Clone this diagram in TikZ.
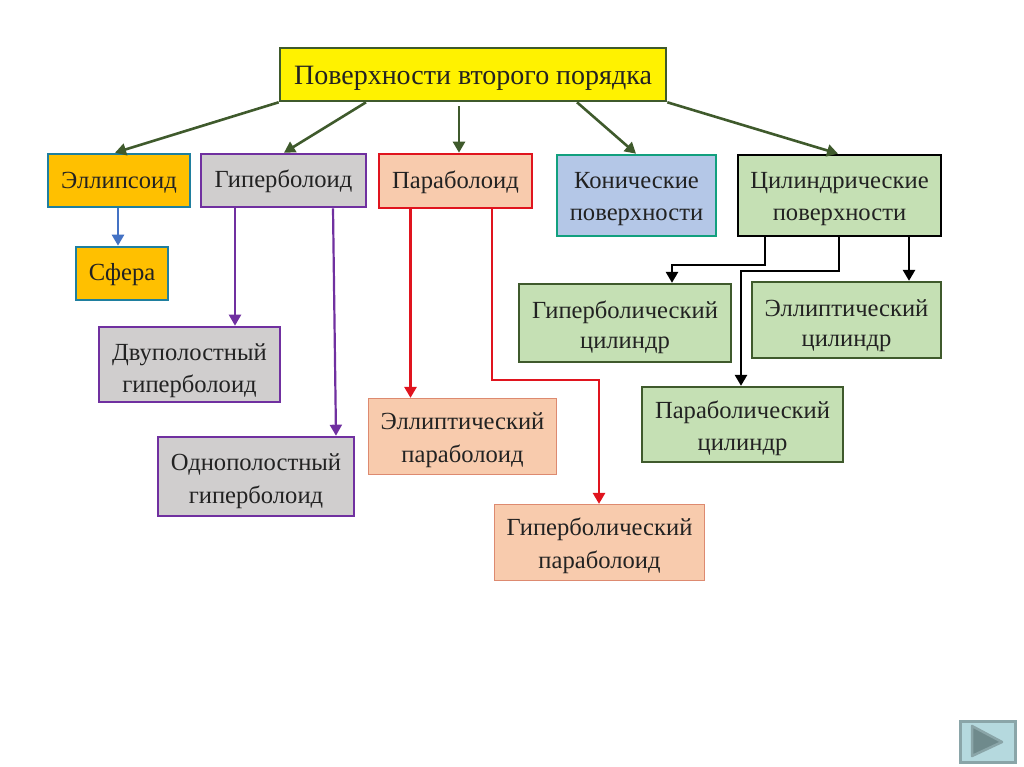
\documentclass[tikz,border=0pt]{standalone}
\usepackage{fontspec}
\setmainfont{Liberation Serif}
\usetikzlibrary{arrows.meta}
\definecolor{dgreen}{HTML}{3F5A2C}
\definecolor{pur}{HTML}{7030A0}
\definecolor{rd}{HTML}{E0141E}
\definecolor{bl}{HTML}{4472C4}
\definecolor{tealb}{HTML}{1F7F9F}
\definecolor{conb}{HTML}{12A07E}
\definecolor{orf}{HTML}{FFC000}
\definecolor{gr}{HTML}{D0CECE}
\definecolor{pch}{HTML}{F8CBAD}
\definecolor{pchb}{HTML}{DD8A70}
\definecolor{ltb}{HTML}{B4C7E7}
\definecolor{grn}{HTML}{C5E0B4}
\definecolor{txt}{HTML}{222222}
\definecolor{btnf}{HTML}{B5D9DE}
\definecolor{btnb}{HTML}{8AA5A8}
\definecolor{btnt}{HTML}{6F8A8C}
\newcommand{\twolines}[4]{\raisebox{-#1pt}[0pt][0pt]{#3}\\\raisebox{-#2pt}[0pt][0pt]{#4}}
\tikzset{
 drop/.style={execute at begin node={\rule{0pt}{#1}}},
 box/.style={draw,inner sep=0pt,align=center,text=txt,font=\fontsize{24.6}{33}\selectfont,line width=2.6pt,line join=miter,drop=20pt},
 twoline/.style={drop=0pt},
 link/.style={line width=2.6pt,-{Triangle[length=11pt,width=12pt]}},
 rootbox/.style={box,fill=yellow,draw=dgreen,font=\fontsize{28}{33}\selectfont,drop=26pt},
 orbox/.style={box,fill=orf,draw=tealb},
 grbox/.style={box,fill=gr,draw=pur},
 pebox/.style={box,fill=pch,draw=rd},
 pelight/.style={box,fill=pch,draw=pchb,line width=1.2pt,twoline},
 grnbox/.style={box,fill=grn,draw=dgreen,line width=2.3pt,twoline},
}
\begin{document}
\begin{tikzpicture}[x=1pt,y=-1pt]
\useasboundingbox (0,0) rectangle (1024,767);
\node[rootbox,minimum width=386pt,minimum height=53pt] (root) at (473,74.5) {Поверхности второго порядка};
\node[orbox,minimum width=142pt,minimum height=53pt] (ell) at (119,180.5) {Эллипсоид};
\node[grbox,minimum width=165pt,minimum height=53pt] (hyp) at (283.5,180.5) {Гиперболоид};
\node[pebox,minimum width=153pt,minimum height=54pt] (par) at (455.5,181) {Параболоид};
\node[box,twoline,fill=ltb,draw=conb,minimum width=159pt,minimum height=81pt] (con) at (636.5,195.5) {\twolines{9.5}{8.5}{Конические}{поверхности}};
\node[box,twoline,fill=grn,draw=black,minimum width=203pt,minimum height=81pt] (cyl) at (839.5,195.5) {\twolines{9.5}{8.5}{Цилиндрические}{поверхности}};
\node[orbox,minimum width=92pt,minimum height=53pt] (sph) at (122,273.5) {Сфера};
\node[grbox,twoline,minimum width=181pt,minimum height=75pt] (two) at (189.5,364.5) {\twolines{12.5}{11.5}{Двуполостный}{гиперболоид}};
\node[grbox,twoline,minimum width=196pt,minimum height=79pt] (one) at (256,476.5) {\twolines{10.5}{10.5}{Однополостный}{гиперболоид}};
\node[pelight,minimum width=188pt,minimum height=76pt] (epar) at (462.5,436.5) {\twolines{9.5}{9.5}{Эллиптический}{параболоид}};
\node[pelight,minimum width=210pt,minimum height=76pt] (hpar) at (599.5,542.5) {\twolines{9.5}{9.5}{Гиперболический}{параболоид}};
\node[grnbox,minimum width=212pt,minimum height=78pt] (hcyl) at (625,323) {\twolines{11.5}{8.5}{Гиперболический}{цилиндр}};
\node[grnbox,minimum width=189pt,minimum height=76pt] (ecyl) at (846.5,320) {\twolines{12.5}{9.5}{Эллиптический}{цилиндр}};
\node[grnbox,minimum width=201pt,minimum height=75pt] (pcyl) at (742.5,424.5) {\twolines{10.5}{9.5}{Параболический}{цилиндр}};
% connectors from root
\draw[link,dgreen] (root.south west) -- ([xshift=-4pt]ell.north);
\draw[link,dgreen] ([xshift=-107pt]root.south) -- ([xshift=0.5pt]hyp.north);
\draw[link,dgreen] ([xshift=-14pt,yshift=-4pt]root.south) -- ([xshift=3.5pt]par.north);
\draw[link,dgreen] ([xshift=104pt]root.south) -- ([xshift=-0.5pt]con.north);
\draw[link,dgreen] (root.south east) -- ([xshift=-1.5pt]cyl.north);
% ellipsoid
\draw[link,bl] ([xshift=-1pt]ell.south) -- ([xshift=-4pt]sph.north);
% hyperboloid
\draw[link,pur,line width=2.2pt] ([xshift=-48.5pt]hyp.south) -- ([xshift=45.5pt]two.north);
\draw[link,pur,line width=2.2pt] ([xshift=49.5pt]hyp.south) -- ([xshift=80pt]one.north);
% paraboloid
\draw[link,rd] ([xshift=-45pt]par.south) -- ([xshift=-52pt]epar.north);
\coordinate (pa) at (492,380);
\coordinate (pb) at (599,380);
\draw[link,rd] ([xshift=36.5pt]par.south) -- (pa) -- (pb) -- ([xshift=-0.5pt]hpar.north);
% cylinders
\draw[link,black] ([xshift=-74.5pt]cyl.south) |- (672,265) coordinate (ca) -- ([xshift=47pt]hcyl.north);
\draw[link,black] ([xshift=-0.5pt]cyl.south) |- (741,271) coordinate (cb) -- ([xshift=-1.5pt]pcyl.north);
\draw[link,black] ([xshift=69.5pt]cyl.south) -- ([xshift=62.5pt]ecyl.north);
% navigation button
\filldraw[draw=btnb,fill=btnf,line width=3pt] (960,721) rectangle (1015,762);
\filldraw[fill=btnt,draw=btnb,line width=2.5pt,line join=round] (972,726) -- (1002,742) -- (972,756) -- cycle;
\end{tikzpicture}
\end{document}
